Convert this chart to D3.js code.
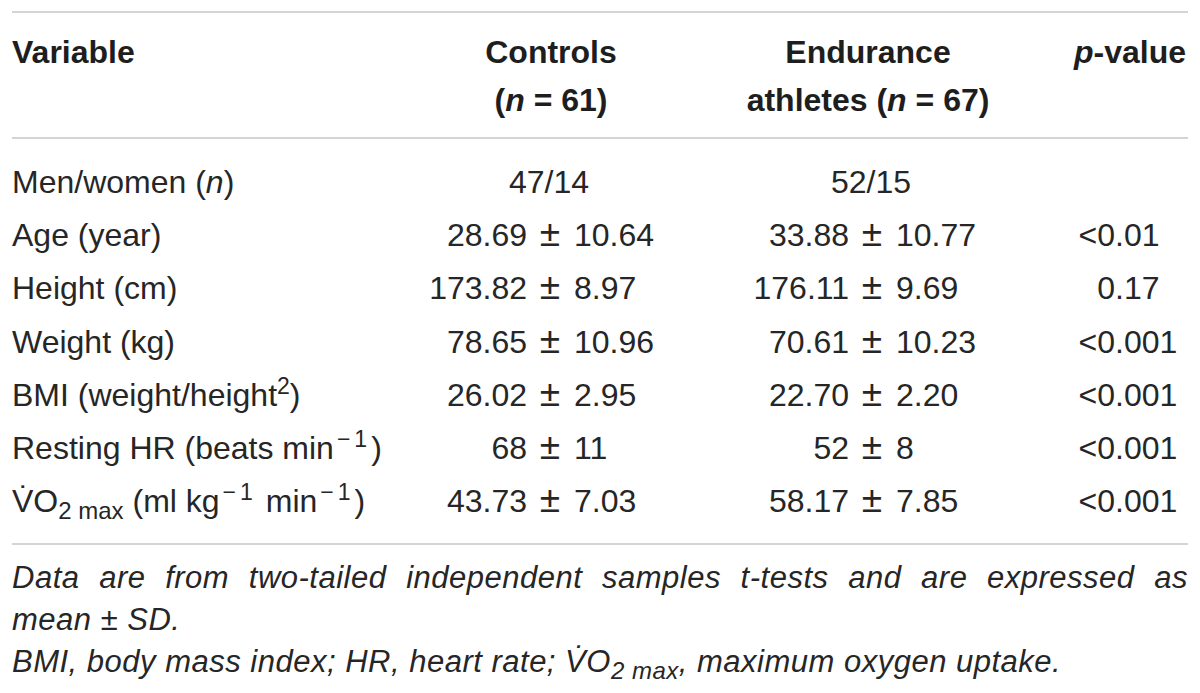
<!DOCTYPE html>
<html>
<head>
<meta charset="utf-8">
<script src="https://cdn.jsdelivr.net/npm/d3@7"></script>
<style>
  body { margin: 0; background: #fff; }
  svg { display: block; }
</style>
</head>
<body>
<div id="table-viz"></div>
<script>
// table content
const variables = [
  [['Men/women ('], ['n', 'i'], [')']],
  [['Age (year)']],
  [['Height (cm)']],
  [['Weight (kg)']],
  [['BMI (weight/height'], ['2', 'sup'], [')']],
  [['Resting HR (beats min'], ['\u22121', 'sup'], [')']],
  [['V\u0307O'], ['2 max', 'sub'], [' (ml kg'], ['\u22121', 'sup'], [' min'], ['\u22121', 'sup'], [')']]
]
const controls = ['47/14', '28.69 ± 10.64', '173.82 ± 8.97', '78.65 ± 10.96', '26.02 ± 2.95', '68 ± 11', '43.73 ± 7.03']
const athletes = ['52/15', '33.88 ± 10.77', '176.11 ± 9.69', '70.61 ± 10.23', '22.70 ± 2.20', '52 ± 8', '58.17 ± 7.85']
const pValues = ['', '<0.01', '0.17', '<0.001', '<0.001', '<0.001', '<0.001']

const headers = [
  { key: 'var', lines: [[['Variable']]] },
  { key: 'ctl', lines: [[['Controls']], [['('], ['n', 'i'], [' = 61)']]] },
  { key: 'ath', lines: [[['Endurance']], [['athletes ('], ['n', 'i'], [' = 67)']]] },
  { key: 'p', lines: [[['p', 'i'], ['-value']]] }
]

const footnote1 = 'Data are from two-tailed independent samples t-tests and are expressed as'
const footnote2 = 'mean ± SD.'
const footnote3 = [['BMI, body mass index; HR, heart rate; '], ['V\u0307O'], ['2 max', 'sub'], [', maximum oxygen uptake.']]

const W = 1200, H = 693
const left = 12, right = 1188
const fs = 32
const ink = '#262626'

const svg = d3.select('#table-viz')
  .append('svg')
    .attr('width', W)
    .attr('height', H)
    .style('font-family', '"Liberation Sans", Arial, sans-serif')
    .style('font-size', fs + 'px')
    .style('fill', ink)

// column anchors
const colX = { var: left, ctl: 551, ath: 868, p: 1186 }
const pmX = { ctl: 549, ath: 871 }
const decX = 1115

const y = d3.scalePoint()
  .domain(d3.range(variables.length))
  .range([193, 512])

function rich(text, segs, size) {
  let shift = 0
  segs.forEach(([s, kind]) => {
    const target = kind === 'sup' ? -Math.round(size * 0.38) : kind === 'sub' ? Math.round(size * 0.23) : 0
    const t = text.append('tspan')
      .attr('dy', target - shift)
      .text(s)
    if (kind === 'sup') {
      t.style('font-size', Math.round(size * 0.72) + 'px')
      if (s.length > 1) t.attr('dx', 3).style('letter-spacing', '4px')
    }
    if (kind === 'sub') t.style('font-size', Math.round(size * 0.76) + 'px')
    if (kind === 'i') t.style('font-style', 'italic')
    shift = target
  })
  return text
}

function rule(yy) {
  svg.append('line')
    .attr('x1', left)
    .attr('x2', right)
    .attr('y1', yy)
    .attr('y2', yy)
    .style('stroke', '#d4d4d4')
    .style('stroke-width', 2)
}

rule(12)
rule(138)
rule(544)

// header
const head = svg.append('g')
  .style('font-weight', 'bold')
  .style('fill', '#1e1e1e')
headers.forEach(h => {
  h.lines.forEach((line, li) => {
    const t = head.append('text')
      .attr('x', colX[h.key])
      .attr('y', 63 + li * 48)
      .attr('text-anchor', h.key === 'var' ? 'start' : h.key === 'p' ? 'end' : 'middle')
    rich(t, line, fs)
  })
})

// body
const body = svg.append('g')
variables.forEach((segs, i) => {
  rich(body.append('text').attr('x', colX.var).attr('y', y(i)), segs, fs)
})

// mean ± SD cells line up on the ± sign
function pmCell(str, key, i) {
  const parts = str.split('±')
  if (parts.length < 2) {
    body.append('text')
      .attr('x', pmX[key])
      .attr('y', y(i))
      .attr('text-anchor', 'middle')
      .text(str)
    return
  }
  body.append('text')
    .attr('x', pmX[key] - 22)
    .attr('y', y(i))
    .attr('text-anchor', 'end')
    .text(parts[0].trim())
  body.append('text')
    .attr('x', pmX[key] + 1)
    .attr('y', y(i))
    .attr('text-anchor', 'middle')
    .style('font-size', '37px')
    .text('±')
  body.append('text')
    .attr('x', pmX[key] + 25)
    .attr('y', y(i))
    .text(parts[1].trim())
}

controls.forEach((d, i) => pmCell(d, 'ctl', i))
athletes.forEach((d, i) => pmCell(d, 'ath', i))

// p-values line up on the decimal point
pValues.forEach((d, i) => {
  if (!d) return
  const k = d.indexOf('.')
  body.append('text')
    .attr('x', decX)
    .attr('y', y(i))
    .attr('text-anchor', 'end')
    .text(d.slice(0, k))
  body.append('text')
    .attr('x', decX)
    .attr('y', y(i))
    .text(d.slice(k))
})

// footnotes, italic
const foot = svg.append('g')
  .style('font-style', 'italic')
  .style('font-size', '31px')
  .style('letter-spacing', '0.5px')

// first line is justified across the table width
const words = footnote1.split(' ')
const wordNodes = words.map(w => foot.append('text').attr('y', 588).text(w))
const widths = wordNodes.map(n => n.node().getComputedTextLength())
const gap = (right - left - d3.sum(widths)) / (words.length - 1)
let cx = left
wordNodes.forEach((n, i) => {
  n.attr('x', cx)
  cx += widths[i] + gap
})

foot.append('text')
  .attr('x', left)
  .attr('y', 630)
  .text(footnote2)

rich(foot.append('text').attr('x', left).attr('y', 672), footnote3, 31)
</script>
</body>
</html>
